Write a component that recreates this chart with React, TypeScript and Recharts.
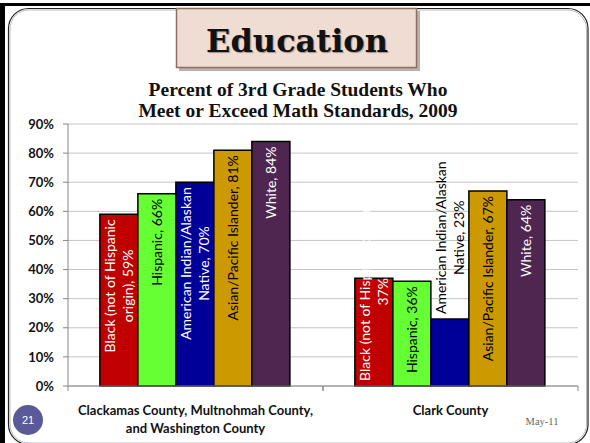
import { Bar, BarChart, CartesianGrid, LabelList, XAxis, YAxis } from "recharts";

const categories = ["Tri-County", "Clark County"];
const categoryLines = [
  ["Clackamas County, Multnohmah County,", "and Washington County"],
  ["Clark County"],
];
const seriesKeys = ["black", "hispanic", "amind", "asian", "white"];
const seriesNames = [
  "Black (not of Hispanic origin)",
  "Hispanic",
  "American Indian/Alaskan Native",
  "Asian/Pacific Islander",
  "White",
];
const seriesColors = ["#c00000", "#66ff33", "#000099", "#cc9900", "#4f2650"];
const labelColors = ["#ffffff", "#000000", "#ffffff", "#000000", "#ffffff"];
const triCounty = [59, 66, 70, 81, 84];
const clarkCounty = [37, 36, 23, 67, 64];
const yTicks = [0, 10, 20, 30, 40, 50, 60, 70, 80, 90];

// word index where the 2nd line of a data label starts (0 = one line)
const labelSplit = [
  [4, 0, 2, 0, 0],
  [5, 0, 2, 0, 0],
];
// where Excel put each label: inside end, inside base, outside end
const labelPlace = [
  ["end", "end", "end", "end", "end"],
  ["base", "end", "out", "end", "end"],
];

const rows = [triCounty, clarkCounty];
const data = categories.map((cat, i) => {
  const row: Record<string, string | number> = { cat };
  seriesKeys.forEach((k, s) => (row[k] = rows[i][s]));
  return row;
});

const LABEL_FONT = "14px Lato";
let ctx: CanvasRenderingContext2D | null = null;
function measure(t: string) {
  if (!ctx) ctx = document.createElement("canvas").getContext("2d");
  if (!ctx) return t.length * 6.5;
  ctx.font = LABEL_FONT;
  return ctx.measureText(t).width;
}

function makeLabel(s: number) {
  return (props: any) => {
    const { x, y, width, height, index, value } = props;
    const words = `${seriesNames[s]}, ${value}%`.split(" ");
    const cut = labelSplit[index][s];
    const lines = cut ? [words.slice(0, cut).join(" "), words.slice(cut).join(" ")] : [words.join(" ")];
    const len = Math.max(...lines.map(measure));
    const pad = 5;
    const place = labelPlace[index][s];
    let c = y + pad + len / 2;
    let fill = labelColors[s];
    if (place === "base") c = y + height - pad - len / 2;
    if (place === "out") {
      c = y - pad - len / 2;
      fill = "#000000";
    }
    const cx = x + width / 2;
    return (
      <g>
        {lines.map((ln, i) => {
          const lx = cx + (i - (lines.length - 1) / 2) * 18;
          return (
            <text
              key={i}
              x={lx}
              y={c}
              transform={`rotate(-90 ${lx} ${c})`}
              textAnchor="middle"
              dominantBaseline="central"
              fill={fill}
              fontSize={14}
              fontFamily="Lato"
            >
              {ln}
            </text>
          );
        })}
      </g>
    );
  };
}

function CategoryTick(props: any) {
  const { x, y, payload } = props;
  const lines = categoryLines[payload.index] || [payload.value];
  const off = payload.offset || 0;
  return (
    <g>
      <line x1={x - off} x2={x - off} y1={y} y2={y + 5} stroke="#868686" />
      <line x1={x + off} x2={x + off} y1={y} y2={y + 5} stroke="#868686" />
      <text textAnchor="middle" fontFamily="Lato" fontWeight="bold" fontSize={13} fill="#111">
        {lines.map((ln: string, i: number) => (
          <tspan key={i} x={x} y={y + 29 + i * 18}>
            {ln}
          </tspan>
        ))}
      </text>
    </g>
  );
}

export default function App() {
  return (
    <div
      style={{
        position: "absolute",
        left: 0,
        top: 0,
        width: 590,
        height: 443,
        background: "#fff",
        overflow: "hidden",
      }}
    >
      <svg width={590} height={443} style={{ position: "absolute", left: 0, top: 0 }}>
        <rect x={0} y={3} width={590} height={3} fill="#000" />
        <rect x={0} y={3} width={5} height={440} fill="#000" />
        <rect x={8.5} y={8.5} width={579.5} height={436} rx={20} fill="none" stroke="#222" strokeWidth={1.2} />
        <rect x={10} y={10} width={576.5} height={433} rx={19} fill="none" stroke="#bbb" strokeWidth={1} />
        <rect x={179} y={11} width={241} height={60} fill="#7a6258" opacity={0.5} />
        <rect x={176.5} y={8.5} width={240} height={59} fill="#efdcd3" stroke="#8c6e62" strokeWidth={1.5} />
        <text
          x={297}
          y={52}
          textAnchor="middle"
          fontFamily="DejaVu Serif"
          fontWeight="bold"
          fontSize={32}
          fill="#111"
          style={{ textShadow: "1px 1px 1px rgba(0,0,0,0.35)" }}
        >
          Education
        </text>
        <text textAnchor="middle" fontFamily="Liberation Serif" fontWeight="bold" fontSize={19.5} fill="#111">
          <tspan x={298} y={96}>
            Percent of 3rd Grade Students Who
          </tspan>
          <tspan x={298} y={117}>
            Meet or Exceed Math Standards, 2009
          </tspan>
        </text>
        <circle cx={28} cy={420} r={15} fill="#5a5a98" />
        <text x={28} y={424} textAnchor="middle" fontFamily="Liberation Sans" fontSize={11} fill="#fff">
          21
        </text>
        <text x={542} y={425} textAnchor="middle" fontFamily="Liberation Serif" fontSize={10.5} fill="#666">
          May-11
        </text>
      </svg>
      <div style={{ position: "absolute", left: 0, top: 0 }}>
        <BarChart
          width={590}
          height={443}
          data={data}
          margin={{ top: 124, right: 12, left: 8, bottom: 7 }}
          barCategoryGap="12.5%"
          barGap={0}
        >
          <CartesianGrid vertical={false} stroke="#c4c4c4" />
          <XAxis
            dataKey="cat"
            height={50}
            interval={0}
            axisLine={{ stroke: "#868686" }}
            tickLine={false}
            tickSize={0}
            tickMargin={0}
            tick={<CategoryTick />}
          />
          <YAxis
            width={60}
            domain={[0, 90]}
            ticks={yTicks}
            interval={0}
            tickFormatter={(v) => `${v}%`}
            axisLine={{ stroke: "#868686" }}
            tickLine={{ stroke: "#868686" }}
            tickSize={5}
            tickMargin={9}
            tick={{ fill: "#111", fontSize: 13, fontWeight: "bold", fontFamily: "Lato" }}
          />
          {seriesKeys.map((k, s) => (
            <Bar
              key={k}
              dataKey={k}
              name={seriesNames[s]}
              fill={seriesColors[s]}
              stroke="#000"
              strokeWidth={1.5}
              isAnimationActive={false}
            >
              <LabelList dataKey={k} content={makeLabel(s)} />
            </Bar>
          ))}
        </BarChart>
      </div>
    </div>
  );
}
